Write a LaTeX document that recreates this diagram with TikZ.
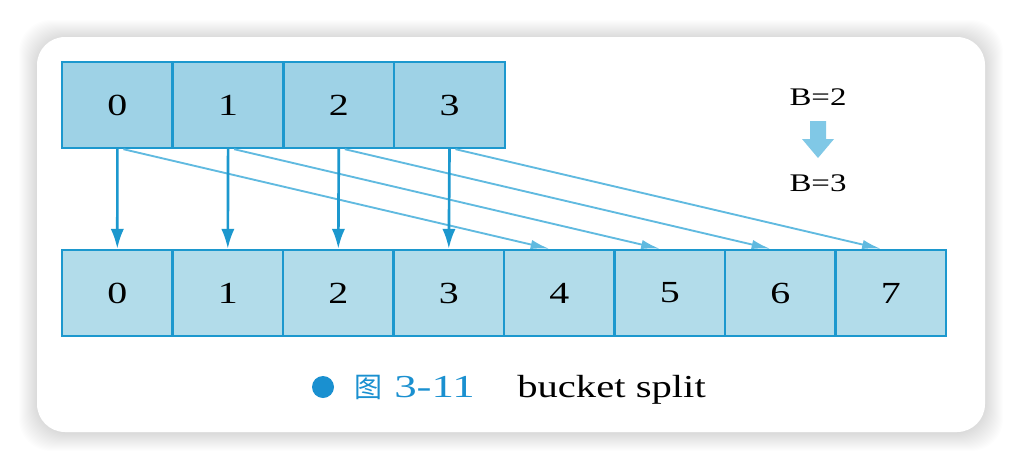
\documentclass[tikz,border=0pt]{standalone}
\usepackage{fontspec}
\setmainfont{Liberation Serif}
\newfontfamily\cjk{Noto Sans CJK SC}
\usetikzlibrary{calc}
\usetikzlibrary{arrows.meta, positioning}

\definecolor{cellline}{RGB}{28,152,206}
\definecolor{topfill}{RGB}{158,210,230}
\definecolor{botfill}{RGB}{178,220,234}
\definecolor{diagline}{RGB}{96,186,224}
\definecolor{fatarrow}{RGB}{128,200,230}
\definecolor{capblue}{RGB}{26,144,208}

\newcommand{\widetxt}[1]{\scalebox{1.3}[1]{#1}}

\begin{document}
\begin{tikzpicture}[x=0.75pt, y=-0.75pt,
    cell/.style={draw=cellline, line width=1.8pt, minimum width=82.9pt, minimum height=64.5pt, inner sep=0pt, font=\fontsize{23}{23}\selectfont},
    down/.style={draw=cellline, line width=2pt, -{Latex[length=15pt,width=10pt]}},
    over/.style={draw=diagline, line width=1.4pt, -{Latex[length=14pt,width=7pt]}}]

\useasboundingbox (0,0) rectangle (1020,468);

% soft shadow round the card
\foreach \s in {1,...,18}
{
    \fill[black, opacity=0.007, rounded corners=24pt] (37-\s,37-\s+1) rectangle (985+\s,432+\s+1);
}

% the card
\fill[white, rounded corners=21pt] (37,37) rectangle (985,432);

% buckets for B=2
\foreach \i in {0,...,3}
{
    \node[cell, fill=topfill] (t\i) at (117.4+110.7*\i,105) {\widetxt{\i}};
}

% buckets for B=3
\foreach \i in {0,...,7}
{
    \node[cell, fill=botfill] (b\i) at (117.3+110.5*\i,293) {\widetxt{\i}};
}

% split buckets move to i+4
\foreach \i [evaluate=\i as \j using int(\i+4)] in {0,...,3}
{
    \draw[over] ($(t\i.south)+(6,0)$) -- ($(b\j.north)+(-10,0)$);
}

% buckets that stay
\foreach \i in {0,...,3}
{
    \draw[down] (t\i.south) -- (b\i.north);
}

% B=2 to B=3
\node[font=\fontsize{19}{19}\selectfont] (oldb) at (818,97) {\widetxt{B=2}};
\node[font=\fontsize{19}{19}\selectfont] (newb) at (818,183) {\widetxt{B=3}};
\fill[fatarrow] (810,121) -- (826,121) -- (826,139) -- (834,139) -- (818,158) -- (802,139) -- (810,139) -- cycle;

% caption
\fill[capblue] (323,387) circle (8.25pt);
\node[anchor=base west, text=capblue, font=\fontsize{24}{24}\selectfont, inner sep=0pt] (fig) at (354,397) {{\cjk\fontsize{21}{21}\selectfont 图}\hspace{9pt}\scalebox{1.4}[1]{3-11}};
\node[anchor=base west, font=\fontsize{24}{24}\selectfont, inner sep=0pt] (name) at (517,397) {\scalebox{1.27}[1]{bucket split}};

\end{tikzpicture}
\end{document}
